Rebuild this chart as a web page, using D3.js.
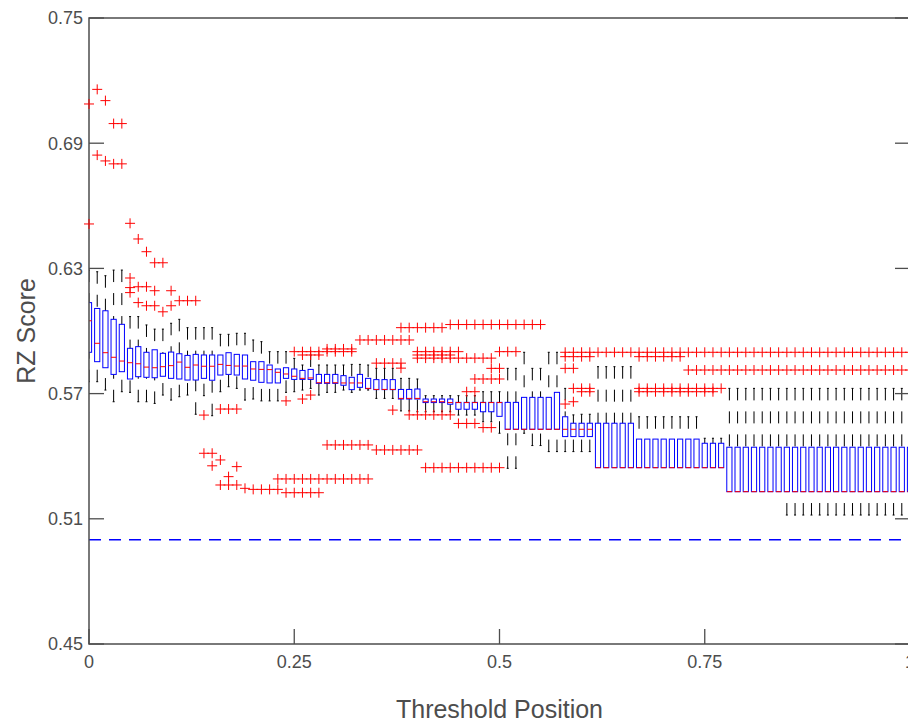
<!DOCTYPE html>
<html>
<head>
<meta charset="utf-8">
<script src="https://cdn.jsdelivr.net/npm/d3@7"></script>
<style>
  html, body { margin: 0; padding: 0; background: #ffffff; }
  svg { display: block; }
  text { font-family: "Liberation Sans", Arial, Helvetica, sans-serif; fill: #4d4d4d; }
</style>
</head>
<body>
<svg id="chart" width="908" height="722"></svg>
<script>
// ---------------- data ----------------
const positions = [0,0.01,0.02,0.03,0.04,0.05,0.06,0.07,0.08,0.09,0.1,0.11,0.12,0.13,0.14,0.15,0.16,0.17,0.18,0.19,
  0.2,0.21,0.22,0.23,0.24,0.25,0.26,0.27,0.28,0.29,0.3,0.31,0.32,0.33,0.34,0.35,0.36,0.37,0.38,0.39,
  0.4,0.41,0.42,0.43,0.44,0.45,0.46,0.47,0.48,0.49,0.5,0.51,0.52,0.53,0.54,0.55,0.56,0.57,0.58,0.59,
  0.6,0.61,0.62,0.63,0.64,0.65,0.66,0.67,0.68,0.69,0.7,0.71,0.72,0.73,0.74,0.75,0.76,0.77,0.78,0.79,
  0.8,0.81,0.82,0.83,0.84,0.85,0.86,0.87,0.88,0.89,0.9,0.91,0.92,0.93,0.94,0.95,0.96,0.97,0.98,0.99,1];

const lowerWhisker = [.5757,.5757,.5717,.5661,.5709,.5706,.5661,.5661,.5653,.5693,
  .5669,.5685,.5693,.5601,.5690,.5594,.5709,.5733,.5725,.5669,
  .5674,.5665,.5665,.5665,.5706,.5709,.5717,.5725,.5693,.5706,
  .5706,.5717,.5706,.5717,.5717,.5677,.5677,.5677,.5617,.5617,
  .5613,.5613,.5613,.5613,.5613,.5597,.5597,.5597,.5565,.5565,
  .5510,.5342,.5342,.5510,.5451,.5451,.5422,.5422,.5422,.5422,
  .5422,.5422,.5345,.5345,.5345,.5345,.5345,.5345,.5345,.5345,
  .5345,.5345,.5345,.5345,.5345,.5345,.5345,.5345,.5230,.5230,
  .5230,.5230,.5230,.5230,.5230,.5118,.5118,.5118,.5118,.5118,
  .5118,.5118,.5118,.5118,.5118,.5118,.5118,.5118,.5118,.5118,.5118];

const q1 = [.5898,.5853,.5824,.5792,.5805,.5770,.5781,.5778,.5776,.5783,
  .5773,.5770,.5765,.5765,.5773,.5764,.5789,.5792,.5789,.5770,
  .5764,.5754,.5751,.5751,.5773,.5768,.5768,.5768,.5749,.5749,
  .5749,.5740,.5719,.5730,.5724,.5719,.5719,.5719,.5674,.5674,
  .5674,.5657,.5657,.5657,.5649,.5625,.5625,.5625,.5613,.5613,
  .5591,.5529,.5529,.5529,.5529,.5529,.5529,.5529,.5494,.5494,
  .5494,.5494,.5345,.5345,.5345,.5345,.5345,.5345,.5345,.5345,
  .5345,.5345,.5345,.5345,.5345,.5345,.5345,.5345,.5230,.5230,
  .5230,.5230,.5230,.5230,.5230,.5230,.5230,.5230,.5230,.5230,
  .5230,.5230,.5230,.5230,.5230,.5230,.5230,.5230,.5230,.5230,.5230];

const medians = [.6049,.5941,.5896,.5874,.5856,.5848,.5843,.5827,.5824,.5829,
  .5834,.5851,.5826,.5837,.5831,.5831,.5840,.5835,.5832,.5832,
  .5818,.5816,.5815,.5802,.5794,.5783,.5773,.5775,.5752,.5752,
  .5752,.5751,.5751,.5751,.5725,.5720,.5720,.5720,.5677,.5677,
  .5677,.5661,.5661,.5661,.5657,.5657,.5657,.5657,.5657,.5657,
  .5657,.5529,.5529,.5529,.5529,.5529,.5529,.5529,.5529,.5529,
  .5529,.5529,.5345,.5345,.5345,.5345,.5345,.5345,.5345,.5345,
  .5345,.5345,.5345,.5345,.5345,.5345,.5345,.5345,.5230,.5230,
  .5230,.5230,.5230,.5230,.5230,.5230,.5230,.5230,.5230,.5230,
  .5230,.5230,.5230,.5230,.5230,.5230,.5230,.5230,.5230,.5230,.5230];

const q3 = [.6136,.6108,.6097,.6056,.6032,.5917,.5925,.5898,.5910,.5893,
  .5899,.5891,.5883,.5888,.5885,.5885,.5885,.5896,.5888,.5885,
  .5853,.5853,.5837,.5818,.5824,.5818,.5811,.5816,.5792,.5792,
  .5792,.5786,.5778,.5792,.5773,.5767,.5767,.5767,.5720,.5720,
  .5722,.5674,.5674,.5674,.5674,.5658,.5658,.5658,.5658,.5658,
  .5658,.5658,.5658,.5682,.5682,.5682,.5682,.5706,.5589,.5558,
  .5558,.5558,.5558,.5558,.5558,.5558,.5558,.5482,.5482,.5482,
  .5482,.5482,.5482,.5482,.5482,.5462,.5462,.5462,.5443,.5443,
  .5443,.5443,.5443,.5443,.5443,.5443,.5443,.5443,.5443,.5443,
  .5443,.5443,.5443,.5443,.5443,.5443,.5443,.5443,.5443,.5443,.5443];

const upperWhisker = [.6292,.6284,.6265,.6292,.6292,.6069,.6069,.6029,.6009,.6009,
  .6037,.6056,.6016,.6016,.6016,.6016,.5984,.5984,.5989,.5989,
  .5957,.5949,.5901,.5901,.5901,.5869,.5837,.5885,.5837,.5837,
  .5837,.5837,.5840,.5840,.5837,.5821,.5821,.5821,.5773,.5773,
  .5770,.5690,.5690,.5690,.5690,.5690,.5690,.5690,.5709,.5709,
  .5709,.5821,.5821,.5898,.5821,.5821,.5898,.5898,.5725,.5598,
  .5601,.5601,.5829,.5829,.5829,.5829,.5829,.5589,.5589,.5589,
  .5589,.5589,.5589,.5589,.5589,.5486,.5486,.5486,.5725,.5725,
  .5725,.5725,.5725,.5725,.5725,.5725,.5725,.5725,.5725,.5725,
  .5725,.5725,.5725,.5725,.5725,.5725,.5725,.5725,.5725,.5725,.5725];

const outliers = [
  [.7088,.6513],[.7158,.6843],[.7104,.6815],[.6994,.6801],[.6994,.6801],
  [.6516,.6254,.6208,.6184],[.6441,.6212,.6136],[.6380,.6212,.6121],[.6327,.6193,.6121],[.6327,.6092],
  [.6193,.6121],[.6145],[.6145],[.6145],[.5597,.5414],
  [.5414,.5354],[.5626,.5382,.5262],[.5626,.5302,.5262],[.5626,.5350,.5262],[.5246],
  [.5241],[.5241],[.5241],[.5291,.5241],[.5665,.5291,.5225],
  [.5901,.5291,.5225],[.5901,.5885,.5674,.5291,.5225],[.5901,.5885,.5693,.5291,.5225],[.5901,.5885,.5291,.5225],[.5914,.5901,.5454,.5291],
  [.5914,.5901,.5454,.5291],[.5914,.5901,.5454,.5291],[.5914,.5901,.5454,.5291],[.5957,.5454,.5291],[.5957,.5454,.5291],
  [.5957,.5846,.5430],[.5957,.5846,.5430],[.5957,.5846,.5621,.5430],[.6016,.5957,.5846,.5822,.5430],[.6016,.5957,.5598,.5430],
  [.6016,.5901,.5885,.5870,.5598,.5430],[.6016,.5901,.5885,.5870,.5598,.5345],[.6016,.5901,.5885,.5870,.5598,.5345],[.6016,.5901,.5885,.5870,.5598,.5345],[.6031,.5901,.5885,.5870,.5598,.5345],
  [.6031,.5901,.5870,.5557,.5345],[.6031,.5870,.5709,.5557,.5345],[.6031,.5870,.5770,.5709,.5557,.5345],[.6031,.5870,.5770,.5537,.5345],[.6031,.5870,.5821,.5770,.5537,.5345],
  [.6031,.5901,.5821,.5770,.5345],[.6031,.5901],[.6031,.5901],[.6031],[.6031],
  [.6031],[],[],[.5898,.5877,.5821,.5650],[.5898,.5877,.5821,.5725,.5661],
  [.5898,.5877,.5725,.5709],[.5898,.5877,.5725,.5709],[.5898],[.5898],[.5898],
  [.5898],[.5898],[.5898,.5877,.5725,.5709],[.5898,.5877,.5725,.5709],[.5898,.5877,.5725,.5709],
  [.5898,.5877,.5725,.5709],[.5898,.5877,.5725,.5709],[.5898,.5877,.5725,.5709],[.5898,.5813,.5725,.5709],[.5898,.5813,.5725,.5709],
  [.5898,.5813,.5725,.5709],[.5898,.5813,.5725,.5709],[.5898,.5813,.5725],[.5898,.5813],[.5898,.5813],
  [.5898,.5813],[.5898,.5813],[.5898,.5813],[.5898,.5813],[.5898,.5813],
  [.5898,.5813],[.5898,.5813],[.5898,.5813],[.5898,.5813],[.5898,.5813],
  [.5898,.5813],[.5898,.5813],[.5898,.5813],[.5898,.5813],[.5898,.5813],
  [.5898,.5813],[.5898,.5813],[.5898,.5813],[.5898,.5813],[.5898,.5813],[.5898,.5813]
];

const referenceLevel = [0.5];
const xTicks = [0, 0.25, 0.5, 0.75, 1];
const xTickLabels = ["0", "0.25", "0.5", "0.75", "1"];
const yTicks = [0.45, 0.51, 0.57, 0.63, 0.69, 0.75];
const yTickLabels = ["0.45", "0.51", "0.57", "0.63", "0.69", "0.75"];
const xTitle = "Threshold Position";
const yTitle = "RZ Score";

// ---------------- layout ----------------
const svg = d3.select("#chart");
const L = 89, R = 910, T = 18, B = 644;
const x = d3.scaleLinear().domain([0, 1]).range([L, R]);
const y = d3.scaleLinear().domain([0.45, 0.75]).range([B, T]);
const axisColor = "#4d4d4d";
const boxHalf = 2.6, capHalf = 1, plusHalf = 5;

svg.append("rect").attr("width", 908).attr("height", 722).attr("fill", "#fff");

svg.append("defs").append("clipPath").attr("id", "plotclip")
  .append("rect").attr("x", L).attr("y", T).attr("width", R - L).attr("height", B - T);

const plot = svg.append("g").attr("clip-path", "url(#plotclip)");

const boxes = positions.map((p, i) => ({
  p, lw: lowerWhisker[i], q1: q1[i], med: medians[i], q3: q3[i], uw: upperWhisker[i], out: outliers[i]
}));

// whiskers (drawn from the adjacent value toward the box so the dash starts at the cap)
const wg = plot.append("g").attr("stroke", "#000").attr("stroke-width", 1).attr("fill", "none");
boxes.forEach(d => {
  const cx = x(d.p);
  if (d.uw > d.q3) {
    wg.append("line").attr("x1", cx).attr("x2", cx).attr("y1", y(d.uw)).attr("y2", y(d.q3))
      .attr("stroke-dasharray", "12,11");
    wg.append("line").attr("x1", cx - capHalf).attr("x2", cx + capHalf).attr("y1", y(d.uw)).attr("y2", y(d.uw));
  }
  if (d.lw < d.q1) {
    wg.append("line").attr("x1", cx).attr("x2", cx).attr("y1", y(d.lw)).attr("y2", y(d.q1))
      .attr("stroke-dasharray", "12,11");
    wg.append("line").attr("x1", cx - capHalf).attr("x2", cx + capHalf).attr("y1", y(d.lw)).attr("y2", y(d.lw));
  }
});

// boxes
plot.append("g").selectAll("rect").data(boxes).join("rect")
  .attr("x", d => x(d.p) - boxHalf)
  .attr("y", d => y(d.q3))
  .attr("width", boxHalf * 2)
  .attr("height", d => Math.max(0.5, y(d.q1) - y(d.q3)))
  .attr("fill", "none").attr("stroke", "#0000ff").attr("stroke-width", 1);

// medians
plot.append("g").selectAll("line").data(boxes).join("line")
  .attr("x1", d => x(d.p) - boxHalf).attr("x2", d => x(d.p) + boxHalf)
  .attr("y1", d => y(d.med)).attr("y2", d => y(d.med))
  .attr("stroke", "#ff0000").attr("stroke-width", 1);

// reference dashed line
plot.append("g").selectAll("line").data(referenceLevel).join("line")
  .attr("x1", L).attr("x2", R).attr("y1", d => y(d)).attr("y2", d => y(d))
  .attr("stroke", "#0000ff").attr("stroke-width", 1.5).attr("stroke-dasharray", "12,8");

// ---------------- axes ----------------
const tickLen = 15;
const ax = svg.append("g").attr("stroke", axisColor).attr("fill", "none");
ax.append("path").attr("stroke-width", 1.5)
  .attr("d", `M${R},${T}H${L}V${B}H${R}V${T}`);

ax.selectAll("line.yl").data(yTicks).join("line").attr("class", "yl")
  .attr("x1", L).attr("x2", L + tickLen).attr("y1", d => y(d)).attr("y2", d => y(d)).attr("stroke-width", 1.3);
ax.selectAll("line.yr").data(yTicks).join("line").attr("class", "yr")
  .attr("x1", R).attr("x2", R - tickLen).attr("y1", d => y(d)).attr("y2", d => y(d)).attr("stroke-width", 1.3);
ax.selectAll("line.xb").data(xTicks).join("line").attr("class", "xb")
  .attr("x1", d => x(d)).attr("x2", d => x(d)).attr("y1", B).attr("y2", B - tickLen).attr("stroke-width", 1.3);

// outliers (markers are not clipped at the axes edge, as in the original)
const pts = [];
boxes.forEach(d => d.out.forEach(v => pts.push({ p: d.p, v })));
svg.append("g").attr("stroke", "#ff0000").attr("stroke-width", 1)
  .selectAll("path").data(pts).join("path")
  .attr("d", d => {
    const cx = x(d.p), cy = y(d.v);
    return `M${cx - plusHalf},${cy}H${cx + plusHalf}M${cx},${cy - plusHalf}V${cy + plusHalf}`;
  });

svg.append("g").selectAll("text").data(yTicks).join("text")
  .attr("x", L - 6).attr("y", d => y(d)).attr("dy", "0.35em")
  .attr("text-anchor", "end").attr("font-size", 18)
  .text((d, i) => yTickLabels[i]);

svg.append("g").selectAll("text").data(xTicks).join("text")
  .attr("x", d => x(d)).attr("y", B + 24)
  .attr("text-anchor", "middle").attr("font-size", 18)
  .text((d, i) => xTickLabels[i]);

svg.append("text").attr("x", (L + R) / 2).attr("y", 718)
  .attr("text-anchor", "middle").attr("font-size", 25).text(xTitle);
svg.append("text").attr("transform", `translate(35,${(T + B) / 2}) rotate(-90)`)
  .attr("text-anchor", "middle").attr("font-size", 25).text(yTitle);
</script>
</body>
</html>
